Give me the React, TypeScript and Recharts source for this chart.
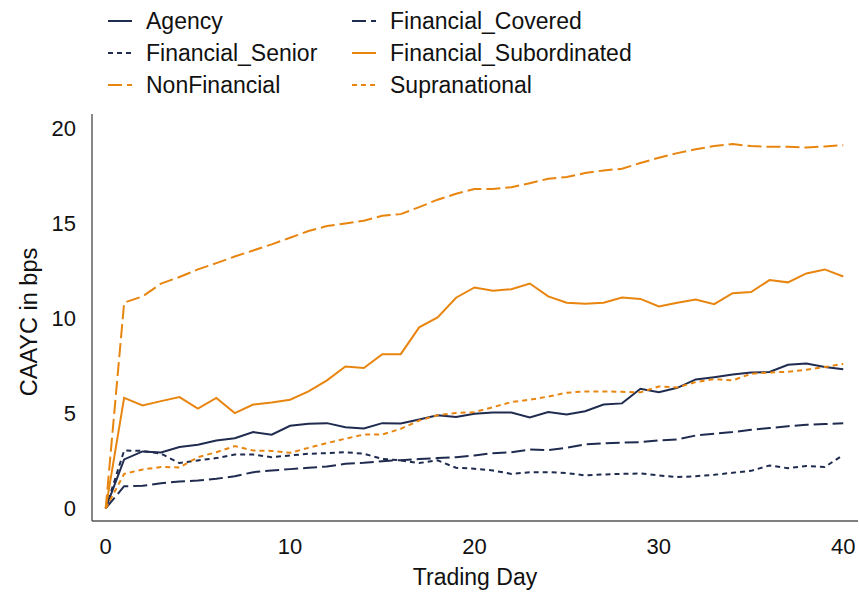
import React from "react";
import { LineChart, Line, XAxis, YAxis, Label } from "recharts";

const days = [0, 1, 2, 3, 4, 5, 6, 7, 8, 9, 10, 11, 12, 13, 14, 15, 16, 17, 18, 19, 20, 21, 22, 23, 24, 25, 26, 27, 28, 29, 30, 31, 32, 33, 34, 35, 36, 37, 38, 39, 40];

const agency = [0, 2.58, 3.0, 2.95, 3.23, 3.35, 3.58, 3.7, 4.02, 3.88, 4.35, 4.46, 4.49, 4.28, 4.21, 4.49, 4.47, 4.68, 4.91, 4.82, 4.98, 5.05, 5.05, 4.79, 5.07, 4.95, 5.12, 5.47, 5.53, 6.3, 6.12, 6.35, 6.79, 6.91, 7.05, 7.16, 7.18, 7.56, 7.63, 7.44, 7.33];
const financialCovered = [0, 1.17, 1.19, 1.33, 1.42, 1.47, 1.56, 1.7, 1.91, 2.0, 2.07, 2.14, 2.21, 2.35, 2.4, 2.49, 2.54, 2.6, 2.65, 2.7, 2.79, 2.91, 2.96, 3.1, 3.07, 3.19, 3.37, 3.42, 3.47, 3.49, 3.58, 3.63, 3.84, 3.93, 4.02, 4.14, 4.23, 4.33, 4.4, 4.44, 4.49];
const financialSenior = [0, 3.05, 3.03, 2.88, 2.39, 2.53, 2.65, 2.84, 2.84, 2.7, 2.79, 2.88, 2.91, 2.96, 2.88, 2.61, 2.53, 2.39, 2.53, 2.14, 2.09, 2.0, 1.82, 1.91, 1.91, 1.86, 1.74, 1.79, 1.82, 1.84, 1.74, 1.65, 1.7, 1.77, 1.88, 1.98, 2.26, 2.12, 2.23, 2.18, 2.82];
const financialSubordinated = [0, 5.82, 5.42, 5.65, 5.86, 5.25, 5.82, 5.02, 5.47, 5.58, 5.72, 6.16, 6.74, 7.47, 7.39, 8.12, 8.12, 9.53, 10.05, 11.09, 11.63, 11.46, 11.54, 11.84, 11.16, 10.83, 10.78, 10.83, 11.1, 11.03, 10.63, 10.83, 11.0, 10.75, 11.33, 11.39, 12.02, 11.9, 12.37, 12.58, 12.21];
const nonFinancial = [0, 10.83, 11.16, 11.83, 12.18, 12.58, 12.91, 13.26, 13.58, 13.9, 14.25, 14.6, 14.86, 15.0, 15.14, 15.4, 15.49, 15.86, 16.25, 16.56, 16.81, 16.81, 16.91, 17.12, 17.35, 17.44, 17.65, 17.79, 17.88, 18.18, 18.46, 18.7, 18.91, 19.07, 19.18, 19.07, 19.03, 19.03, 19.0, 19.05, 19.12];
const supranational = [0, 1.82, 2.05, 2.18, 2.16, 2.7, 2.96, 3.28, 3.05, 3.03, 2.93, 3.19, 3.44, 3.67, 3.89, 3.89, 4.19, 4.63, 4.91, 5.02, 5.07, 5.33, 5.6, 5.72, 5.89, 6.09, 6.16, 6.16, 6.14, 6.11, 6.42, 6.37, 6.65, 6.81, 6.74, 7.09, 7.16, 7.19, 7.3, 7.44, 7.61];

const xTicks = [0, 10, 20, 30, 40];
const yTicks = [0, 5, 10, 15, 20];

const NAVY = "#1f2b4f";
const ORANGE = "#e8850f";
const FONT = "'Liberation Sans', Arial, Helvetica, sans-serif";

const seriesList = [
  { key: "Agency", values: agency, color: NAVY, dash: undefined as string | undefined },
  { key: "Financial_Covered", values: financialCovered, color: NAVY, dash: "14 5" },
  { key: "Financial_Senior", values: financialSenior, color: NAVY, dash: "5 4" },
  { key: "Financial_Subordinated", values: financialSubordinated, color: ORANGE, dash: undefined as string | undefined },
  { key: "NonFinancial", values: nonFinancial, color: ORANGE, dash: "14 5" },
  { key: "Supranational", values: supranational, color: ORANGE, dash: "5 4" },
];

const legendOrder = ["Agency", "Financial_Covered", "Financial_Senior", "Financial_Subordinated", "NonFinancial", "Supranational"];

const data = days.map((d, i) => {
  const row: Record<string, number> = { day: d };
  seriesList.forEach((s) => {
    row[s.key] = s.values[i];
  });
  return row;
});

const W = 859;
const H = 593;

function LegendBlock() {
  const colX = [108, 352];
  const rowY = [21, 53, 85];
  return (
    <svg width={W} height={110} style={{ position: "absolute", left: 0, top: 0, pointerEvents: "none" }}>
      {legendOrder.map((name, i) => {
        const s = seriesList.find((x) => x.key === name)!;
        const cx = colX[i % 2];
        const cy = rowY[Math.floor(i / 2)];
        return (
          <g key={name}>
            <line x1={cx} x2={cx + 24} y1={cy} y2={cy} stroke={s.color} strokeWidth={2} strokeDasharray={s.dash} />
            <text x={cx + 38} y={cy + 8.2} fontFamily={FONT} fontSize={23} fill="#111">
              {name}
            </text>
          </g>
        );
      })}
    </svg>
  );
}

export default function App() {
  return (
    <div style={{ position: "absolute", left: 0, top: 0, width: W, height: H, background: "#fff" }}>
      <LineChart
        width={W}
        height={H}
        data={data}
        margin={{ top: 114, right: 1, bottom: 0, left: 0 }}
        style={{ fontFamily: FONT }}
      >
        <XAxis
          dataKey="day"
          type="number"
          domain={[-0.743, 40.8]}
          allowDataOverflow
          ticks={xTicks}
          tickLine={false}
          tickSize={6}
          tickMargin={11}
          height={72}
          axisLine={{ stroke: "#555", strokeWidth: 1.4 }}
          tick={{ fill: "#111", fontSize: 22, fontFamily: FONT }}
        >
          <Label
            content={() => (
              <text x={475} y={585} textAnchor="middle" fontFamily={FONT} fontSize={23} fill="#111">
                Trading Day
              </text>
            )}
          />
        </XAxis>
        <YAxis
          type="number"
          domain={[-0.66, 20.76]}
          allowDataOverflow
          ticks={yTicks}
          tickLine={false}
          tickSize={6}
          tickMargin={10}
          width={92}
          axisLine={{ stroke: "#555", strokeWidth: 1.4 }}
          tick={{ fill: "#111", fontSize: 22, fontFamily: FONT }}
        >
          <Label
            content={() => (
              <text transform="translate(37,322) rotate(-90)" x={0} y={0} textAnchor="middle" fontFamily={FONT} fontSize={23.5} fill="#111">
                CAAYC in bps
              </text>
            )}
          />
        </YAxis>
        {seriesList.map((s) => (
          <Line
            key={s.key}
            type="linear"
            dataKey={s.key}
            stroke={s.color}
            strokeWidth={2}
            strokeDasharray={s.dash}
            dot={false}
            activeDot={false}
            isAnimationActive={false}
          />
        ))}
      </LineChart>
      <LegendBlock />
    </div>
  );
}
